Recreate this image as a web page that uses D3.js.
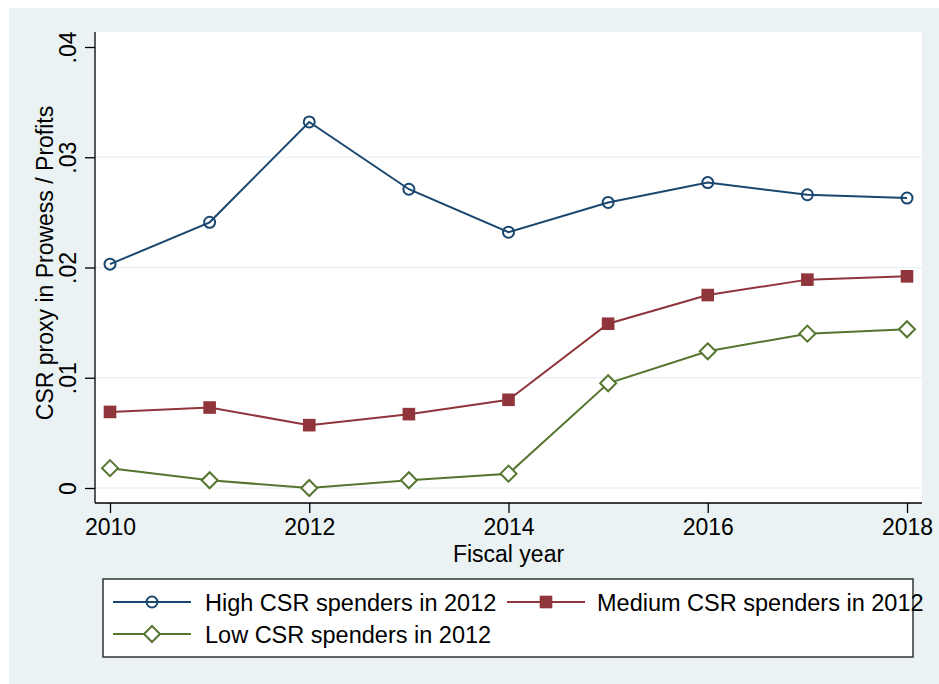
<!DOCTYPE html>
<html>
<head>
<meta charset="utf-8">
<script src="https://cdn.jsdelivr.net/npm/d3@7"></script>
<style>
  html, body { margin: 0; padding: 0; background: #ffffff; }
  svg { display: block; }
  text { font-family: "Liberation Sans", Arial, Helvetica, sans-serif; fill: #000; }
</style>
</head>
<body>
<script>
// Fiscal years on the x axis
const years = [2010, 2011, 2012, 2013, 2014, 2015, 2016, 2017, 2018];

// CSR proxy (Prowess / Profits) by spender group in 2012
const highValues   = [0.0203, 0.0241, 0.0332, 0.0271, 0.0232, 0.0259, 0.0277, 0.0266, 0.0263];
const mediumValues = [0.0069, 0.0073, 0.0057, 0.0067, 0.0080, 0.0149, 0.0175, 0.0189, 0.0192];
const lowValues    = [0.0018, 0.0007, 0.0000, 0.0007, 0.0013, 0.0095, 0.0124, 0.0140, 0.0144];

const xTicks = [2010, 2012, 2014, 2016, 2018];
const yTicks = [0, 0.01, 0.02, 0.03, 0.04];
const yTickLabels = ["0", ".01", ".02", ".03", ".04"];
const gridTicks = [0, 0.01, 0.02, 0.03];

const seriesNames = ["High CSR spenders in 2012", "Medium CSR spenders in 2012", "Low CSR spenders in 2012"];

const W = 939, H = 684;
const plot = { left: 95, right: 922, top: 32, bottom: 503 };

const series = [
  { name: seriesNames[0], values: highValues,   color: "#1a476f", symbol: "circle" },
  { name: seriesNames[1], values: mediumValues, color: "#90353b", symbol: "square" },
  { name: seriesNames[2], values: lowValues,    color: "#55752f", symbol: "diamond" }
];

const svg = d3.select("body").append("svg").attr("width", W).attr("height", H);

// Outer graph region
svg.append("rect").attr("x", 9).attr("y", 8).attr("width", W - 9).attr("height", H - 8)
  .attr("fill", "#eaf2f3");

// Plot region
svg.append("rect")
  .attr("x", plot.left).attr("y", plot.top)
  .attr("width", plot.right - plot.left).attr("height", plot.bottom - plot.top)
  .attr("fill", "#ffffff");

const x = d3.scaleLinear().domain([2010, 2018]).range([110, 907]);
const y = d3.scaleLinear().domain([0, 0.04]).range([488, 47]);

// Horizontal gridlines
svg.append("g").selectAll("line").data(gridTicks).join("line")
  .attr("x1", plot.left).attr("x2", plot.right)
  .attr("y1", d => y(d)).attr("y2", d => y(d))
  .attr("stroke", "#eaf2f3").attr("stroke-width", 1.5);

// Y axis
const yAxis = d3.axisLeft(y).tickValues(yTicks)
  .tickFormat((d, i) => yTickLabels[i]).tickSize(10).tickSizeOuter(0);
const gy = svg.append("g").attr("transform", `translate(${plot.left},0)`).call(yAxis);
gy.select(".domain").attr("d", `M0,${plot.top}V${plot.bottom}`).attr("stroke", "#000").attr("stroke-width", 1.3);
gy.selectAll(".tick line").attr("stroke", "#000").attr("stroke-width", 1.3);
gy.selectAll(".tick text")
  .attr("font-size", 23).attr("text-anchor", "middle")
  .attr("x", null).attr("dy", null)
  .attr("transform", "translate(-19,0) rotate(-90)")
  .attr("y", 0);

// X axis
const xAxis = d3.axisBottom(x).tickValues(xTicks).tickFormat(d3.format("d"))
  .tickSize(10).tickSizeOuter(0);
const gx = svg.append("g").attr("transform", `translate(0,${plot.bottom})`).call(xAxis);
gx.select(".domain").attr("d", `M${plot.left},0H${plot.right}`).attr("stroke", "#000").attr("stroke-width", 1.3);
gx.selectAll(".tick line").attr("stroke", "#000").attr("stroke-width", 1.3);
gx.selectAll(".tick text").attr("font-size", 23).attr("dy", null).attr("y", 32);

// Axis titles
svg.append("text").attr("x", (plot.left + plot.right) / 2).attr("y", 562)
  .attr("text-anchor", "middle").attr("font-size", 23).text("Fiscal year");
svg.append("text")
  .attr("transform", `translate(53,263) rotate(-90)`)
  .attr("text-anchor", "middle").attr("font-size", 23)
  .text("CSR proxy in Prowess / Profits");

// Marker drawing
function drawMarker(g, symbol, color, cx, cy) {
  if (symbol === "circle") {
    g.append("circle").attr("cx", cx).attr("cy", cy).attr("r", 5.5)
      .attr("fill", "none").attr("stroke", color).attr("stroke-width", 2);
  } else if (symbol === "square") {
    g.append("rect").attr("x", cx - 6.3).attr("y", cy - 6.3)
      .attr("width", 12.6).attr("height", 12.6).attr("fill", color);
  } else {
    const r = 8;
    g.append("path")
      .attr("d", `M${cx},${cy - r}L${cx + r},${cy}L${cx},${cy + r}L${cx - r},${cy}Z`)
      .attr("fill", "#ffffff").attr("stroke", color).attr("stroke-width", 2);
  }
}

const line = d3.line().x((d, i) => x(years[i])).y(d => y(d));

// Series lines and markers
series.forEach(s => {
  const g = svg.append("g");
  g.append("path").datum(s.values).attr("d", line)
    .attr("fill", "none").attr("stroke", s.color).attr("stroke-width", 2);
  s.values.forEach((v, i) => drawMarker(g, s.symbol, s.color, x(years[i]), y(v)));
});

// Legend
const legend = svg.append("g");
legend.append("rect").attr("x", 103).attr("y", 579).attr("width", 810).attr("height", 78)
  .attr("fill", "#ffffff").attr("stroke", "#333333").attr("stroke-width", 1.5);

const legendPos = [
  { kx: 113, ky: 602, tx: 205, ty: 611 },
  { kx: 507, ky: 602, tx: 597, ty: 611 },
  { kx: 113, ky: 634, tx: 205, ty: 643 }
];
series.forEach((s, i) => {
  const p = legendPos[i];
  legend.append("line").attr("x1", p.kx).attr("x2", p.kx + 78)
    .attr("y1", p.ky).attr("y2", p.ky).attr("stroke", s.color).attr("stroke-width", 2);
  drawMarker(legend, s.symbol, s.color, p.kx + 39, p.ky);
  legend.append("text").attr("x", p.tx).attr("y", p.ty).attr("font-size", 23.5).text(s.name);
});
</script>
</body>
</html>
